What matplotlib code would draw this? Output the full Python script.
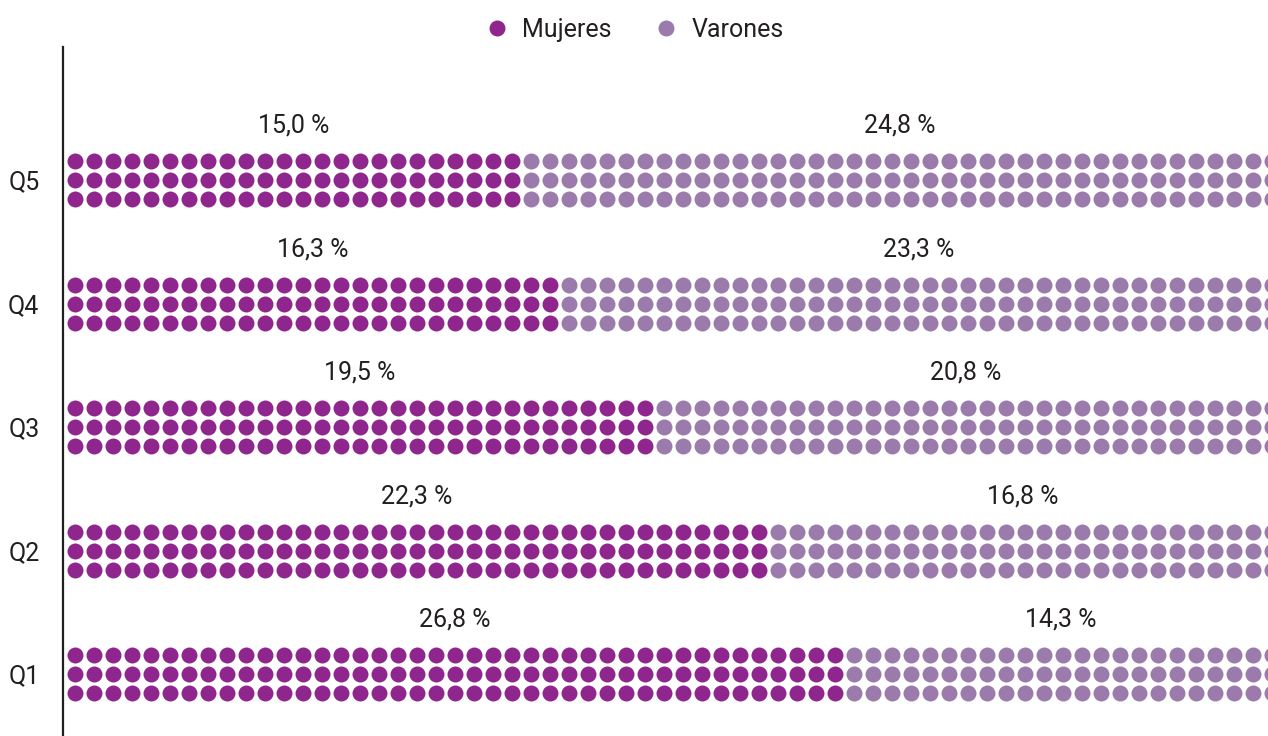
import matplotlib
matplotlib.use("Agg")
import matplotlib.pyplot as plt
from matplotlib.lines import Line2D

plt.rcParams['font.family'] = ['Roboto', 'DejaVu Sans']

# datos (de abajo hacia arriba)
quintiles = ["Q1", "Q2", "Q3", "Q4", "Q5"]
mujeres = [26.8, 22.3, 19.5, 16.3, 15.0]
varones = [14.3, 16.8, 20.8, 23.3, 24.8]
# puntos por fila
mujeres_dots = [41, 37, 31, 26, 24]
varones_dots = [23, 27, 33, 38, 40]

c_muj = '#8f268e'
c_var = '#9a7bac'
txt_col = '#231f20'

W, H = 1268, 736
fig = plt.figure(figsize=(W / 100, H / 100), dpi=100, facecolor='white')
ax = fig.add_axes([63 / W, 0, (W - 63) / W, (H - 47) / H])

gap = 6.5      # separacion entre grupos (en unidades de punto)
nrows = 3
msize = 11.5 ** 2
fs = 18

for k, q in enumerate(quintiles):
    yc = k * gap
    nm = mujeres_dots[k]
    nv = varones_dots[k]
    for r in range(nrows):
        y = yc + (r - 1)
        ax.scatter(range(nm), [y] * nm, s=msize, color=c_muj, lw=0, zorder=3)
        ax.scatter(range(nm, nm + nv), [y] * nv, s=msize, color=c_var, lw=0, zorder=3)

xmin, xmax = -0.632, 62.79
ax.set_xlim(xmin, xmax)
ax.set_ylim(-3.26, 33)

for k, q in enumerate(quintiles):
    yc = k * gap
    nm = mujeres_dots[k]
    ax.text((nm - 1) / 2, yc + 2.85, f"{mujeres[k]:.1f} %".replace('.', ','),
            ha='center', va='center', fontsize=fs, color=txt_col)
    ax.text((nm + xmax) / 2, yc + 2.85, f"{varones[k]:.1f} %".replace('.', ','),
            ha='center', va='center', fontsize=fs, color=txt_col)

ax.set_yticks([k * gap for k in range(len(quintiles))])
ax.set_yticklabels(quintiles, fontsize=fs, color=txt_col)
ax.tick_params(axis='y', length=0, pad=17)
ax.set_xticks([])
for s in ['top', 'right', 'bottom']:
    ax.spines[s].set_visible(False)
ax.spines['left'].set_linewidth(1.6)
ax.spines['left'].set_color(txt_col)

handles = [Line2D([], [], ls='none', marker='o', ms=11.5, color=c_muj, mew=0),
           Line2D([], [], ls='none', marker='o', ms=11.5, color=c_var, mew=0)]
leg = fig.legend(handles, ['Mujeres', 'Varones'], loc='center', bbox_to_anchor=(0.5, 1 - 30 / H),
                 ncol=2, frameon=False, fontsize=fs, handletextpad=0.5, columnspacing=1.7,
                 handlelength=1.0)
for t in leg.get_texts():
    t.set_color(txt_col)

fig.savefig('out.png', dpi=100, facecolor='white')
